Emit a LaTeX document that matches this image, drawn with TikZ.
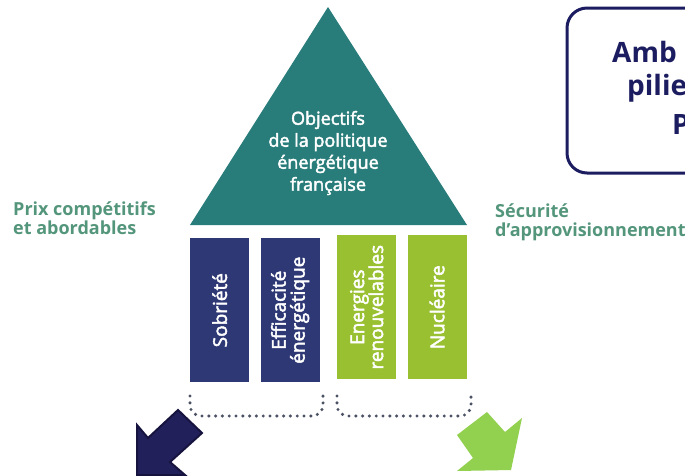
\documentclass[tikz,border=0pt]{standalone}
\usepackage{fontspec}
\setmainfont{Open Sans}
\newfontfamily\medfont{Open Sans}[FakeBold=2.5]
\usepackage{xcolor}
\usepackage{tikz}
\usetikzlibrary{positioning}

\definecolor{roofteal}{RGB}{40,124,122}
\definecolor{pillarblue}{RGB}{46,56,116}
\definecolor{pillargreen}{RGB}{152,192,48}
\definecolor{labelgreen}{RGB}{84,150,124}
\definecolor{boxnavy}{RGB}{28,28,96}
\definecolor{arrownavy}{RGB}{34,32,90}
\definecolor{arrowedge}{RGB}{22,20,62}
\definecolor{arrowgreen}{RGB}{146,208,80}
\definecolor{dotgray}{RGB}{75,82,100}

\begin{document}
\begin{tikzpicture}[
    x=1pt, y=-1pt,
    roof/.style={fill=roofteal},
    rooftext/.style={text=white, align=center, font=\fontsize{18}{22}\selectfont\medfont},
    pillar/.style={rectangle, minimum width=59pt, minimum height=144pt, inner sep=0pt},
    pillartext/.style={text=white, align=center, rotate=90, font=\fontsize{19}{19}\selectfont\medfont},
    side/.style={text=labelgreen, align=left, anchor=west, inner sep=0pt, font=\fontsize{18}{19}\selectfont\bfseries},
    brace/.style={draw=dotgray, line width=3.4pt, line cap=round, dash pattern=on 0pt off 6.8pt, rounded corners=11pt},
    ambbox/.style={draw=boxnavy, line width=3pt, rounded corners=20pt},
    ambtext/.style={text=boxnavy, anchor=west, inner sep=0pt, font=\fontsize{28}{34}\selectfont\bfseries}
]
\clip (0,0) rectangle (685,475);
\fill[white] (0,0) rectangle (685,475);

% Roof: objectives
\fill[roof] (190,225) -- (328,7) -- (467,225) -- cycle;
\node[rooftext] (obj) at (328,153) {Objectifs\\de la politique\\énergétique\\française};

% Side labels
\node[side] (prix) at (13,218) {Prix compétitifs\\et abordables};
\node[side] (secu) at (495,222) {Sécurité\\d’approvisionnement};

% Pillars
\node[pillar, fill=pillarblue, anchor=north west] (sob) at (190,238) {};
\node[pillar, fill=pillarblue, right=11pt of sob] (eff) {};
\node[pillar, fill=pillargreen, anchor=north west] (enr) at (337,235) {};
\node[pillar, fill=pillargreen, right=11pt of enr] (nuc) {};
\node[pillartext] at (sob) {Sobriété};
\node[pillartext] at (eff) {Efficacité\\énergétique};
\node[pillartext] at (enr) {Energies\\renouvelables};
\node[pillartext] at (nuc) {Nucléaire};

% Dotted brackets
\draw[brace] (190,396) -- (190,416) -- (323,416) -- (323,396);
\draw[brace] (337,396) -- (337,416) -- (471,416) -- (471,396);

% Arrows
\filldraw[fill=arrownavy, draw=arrowedge, line width=2pt, line join=miter]
    (178,410) -- (202,433) -- (170,462) -- (185,475) -- (137,475) -- (137,425) -- (148,438) -- cycle;
\fill[arrowgreen]
    (487,412) -- (457,435) -- (473,458) -- (457,471) -- (511,470) -- (522,418) -- (505,432) -- cycle;

% Ambition box (cut at the right edge)
\draw[ambbox] (567,8) rectangle (760,173);
\node[ambtext] (amb) at (612,52) {Amb};
\node[ambtext] (pil) at (627,88) {pilie};
\node[ambtext] (pp) at (672,124) {P};

\end{tikzpicture}
\end{document}
